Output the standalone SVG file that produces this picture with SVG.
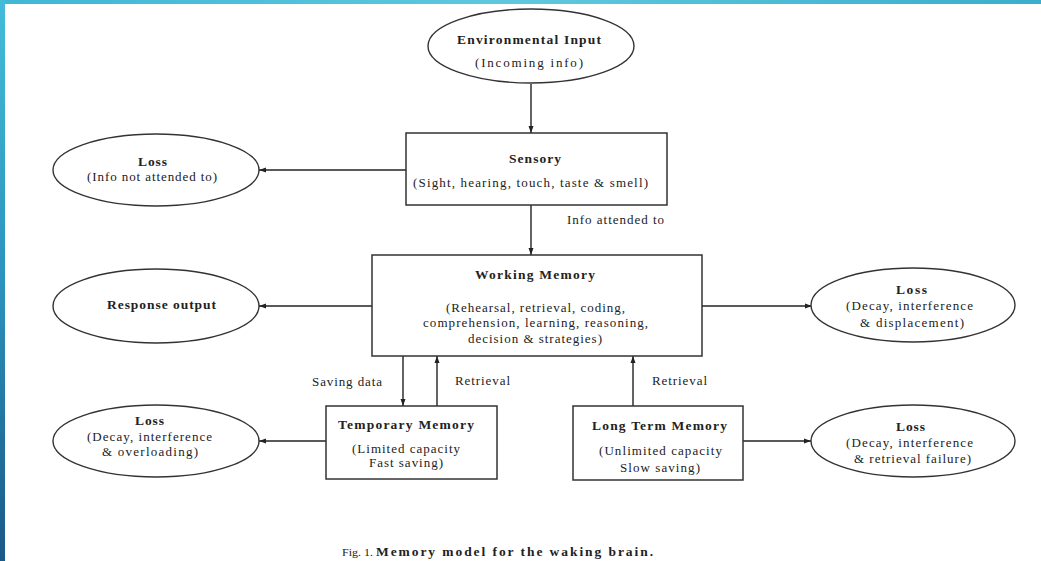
<svg xmlns="http://www.w3.org/2000/svg" width="1041" height="561" viewBox="0 0 1041 561">
<defs>
<linearGradient id="gTop" x1="0" y1="0" x2="1" y2="0">
<stop offset="0" stop-color="#3fb7d5"/>
<stop offset="0.5" stop-color="#5fc8de"/>
<stop offset="1" stop-color="#3aaecb"/>
</linearGradient>
<linearGradient id="gLeft" x1="0" y1="0" x2="0" y2="1">
<stop offset="0" stop-color="#44bcd9"/>
<stop offset="0.5" stop-color="#2b93bd"/>
<stop offset="1" stop-color="#1a5888"/>
</linearGradient>
<marker id="arr" markerUnits="userSpaceOnUse" markerWidth="7" markerHeight="6" viewBox="0 0 7 6" refX="7" refY="3" orient="auto">
<path d="M0,0.5 L7,3 L0,5.5 Z" fill="#222"/>
</marker>
</defs>
<style>
.box{fill:#fff;stroke:#333;stroke-width:1.5}
.ell{fill:#fff;stroke:#333;stroke-width:1.4}
.t{font-family:"Liberation Serif","Times New Roman",serif;font-size:13px;fill:#222}
.b{font-weight:bold;font-size:13.5px}
.c{text-anchor:middle}
.ln{stroke:#222;stroke-width:1.4;fill:none;marker-end:url(#arr)}
</style>
<rect x="0" y="0" width="1041" height="561" fill="#fff"/>
<rect x="0" y="0" width="1041" height="4" fill="url(#gTop)"/>
<rect x="0" y="0" width="5" height="561" fill="url(#gLeft)"/>

<g id="connectors">
<line class="ln" x1="531" y1="84" x2="531" y2="133"/>
<line class="ln" x1="406" y1="170" x2="259" y2="170"/>
<line class="ln" x1="531" y1="205" x2="531" y2="255"/>
<line class="ln" x1="372" y1="306" x2="259" y2="306"/>
<line class="ln" x1="702" y1="306" x2="812" y2="306"/>
<line class="ln" x1="403" y1="356" x2="403" y2="406"/>
<line class="ln" x1="437" y1="406" x2="437" y2="356"/>
<line class="ln" x1="633" y1="406" x2="633" y2="356"/>
<line class="ln" x1="326" y1="441" x2="259" y2="441"/>
<line class="ln" x1="743" y1="441" x2="811" y2="441"/>
<text class="t" x="567" y="224" textLength="97" lengthAdjust="spacing">Info attended to</text>
<text class="t" x="312" y="386" textLength="70" lengthAdjust="spacing">Saving data</text>
<text class="t" x="455" y="385" textLength="55" lengthAdjust="spacing">Retrieval</text>
<text class="t" x="652" y="385" textLength="55" lengthAdjust="spacing">Retrieval</text>
</g>

<g id="env-input">
<ellipse class="ell" cx="531" cy="46" rx="103" ry="37"/>
<text class="t b c" x="529" y="44" textLength="144" lengthAdjust="spacing">Environmental Input</text>
<text class="t c" x="529" y="67" textLength="108" lengthAdjust="spacing">(Incoming info)</text>
</g>

<g id="sensory">
<rect class="box" x="406" y="133" width="261" height="72"/>
<text class="t b c" x="535" y="163" textLength="52" lengthAdjust="spacing">Sensory</text>
<text class="t c" x="530.5" y="187" textLength="235" lengthAdjust="spacing">(Sight, hearing, touch, taste &amp; smell)</text>
</g>

<g id="loss-not-attended">
<ellipse class="ell" cx="156" cy="170" rx="103" ry="36"/>
<text class="t b c" x="152.5" y="166" textLength="29" lengthAdjust="spacing">Loss</text>
<text class="t c" x="152" y="181" textLength="130" lengthAdjust="spacing">(Info not attended to)</text>
</g>

<g id="working-memory">
<rect class="box" x="372" y="255" width="330" height="101"/>
<text class="t b c" x="535" y="279" textLength="120" lengthAdjust="spacing">Working Memory</text>
<text class="t c" x="535.5" y="312" textLength="179" lengthAdjust="spacing">(Rehearsal, retrieval, coding,</text>
<text class="t c" x="535.5" y="327" textLength="225" lengthAdjust="spacing">comprehension, learning, reasoning,</text>
<text class="t c" x="535" y="343" textLength="134" lengthAdjust="spacing">decision &amp; strategies)</text>
</g>

<g id="response-output">
<ellipse class="ell" cx="156" cy="306" rx="103" ry="37"/>
<text class="t b c" x="161.5" y="309" textLength="109" lengthAdjust="spacing">Response output</text>
</g>

<g id="loss-displacement">
<ellipse class="ell" cx="913" cy="305" rx="102" ry="37"/>
<text class="t b c" x="911.5" y="294" textLength="31" lengthAdjust="spacing">Loss</text>
<text class="t c" x="909.5" y="310" textLength="127" lengthAdjust="spacing">(Decay, interference</text>
<text class="t c" x="912" y="327" textLength="104" lengthAdjust="spacing">&amp; displacement)</text>
</g>

<g id="temporary-memory">
<rect class="box" x="326" y="406" width="171" height="73"/>
<text class="t b c" x="406" y="429" textLength="136" lengthAdjust="spacing">Temporary Memory</text>
<text class="t c" x="406" y="453" textLength="108" lengthAdjust="spacing">(Limited capacity</text>
<text class="t c" x="406" y="467" textLength="74" lengthAdjust="spacing">Fast saving)</text>
</g>

<g id="long-term-memory">
<rect class="box" x="573" y="406" width="170" height="74"/>
<text class="t b c" x="659.5" y="430" textLength="135" lengthAdjust="spacing">Long Term Memory</text>
<text class="t c" x="660.5" y="455" textLength="123" lengthAdjust="spacing">(Unlimited capacity</text>
<text class="t c" x="660" y="472" textLength="80" lengthAdjust="spacing">Slow saving)</text>
</g>

<g id="loss-overloading">
<ellipse class="ell" cx="156" cy="441" rx="103" ry="36"/>
<text class="t b c" x="149.5" y="425" textLength="29" lengthAdjust="spacing">Loss</text>
<text class="t c" x="149.5" y="441" textLength="125" lengthAdjust="spacing">(Decay, interference</text>
<text class="t c" x="150" y="456" textLength="96" lengthAdjust="spacing">&amp; overloading)</text>
</g>

<g id="loss-retrieval-failure">
<ellipse class="ell" cx="913" cy="441" rx="102" ry="36"/>
<text class="t b c" x="910.5" y="431" textLength="29" lengthAdjust="spacing">Loss</text>
<text class="t c" x="909.5" y="447" textLength="127" lengthAdjust="spacing">(Decay, interference</text>
<text class="t c" x="912.5" y="463" textLength="117" lengthAdjust="spacing">&amp; retrieval failure)</text>
</g>

<g id="caption">
<text class="t" x="342" y="556" style="font-size:11px" textLength="31" lengthAdjust="spacingAndGlyphs">Fig. 1.</text>
<text class="t b" x="376" y="556" textLength="277" lengthAdjust="spacing">Memory model for the waking brain.</text>
</g>
</svg>
